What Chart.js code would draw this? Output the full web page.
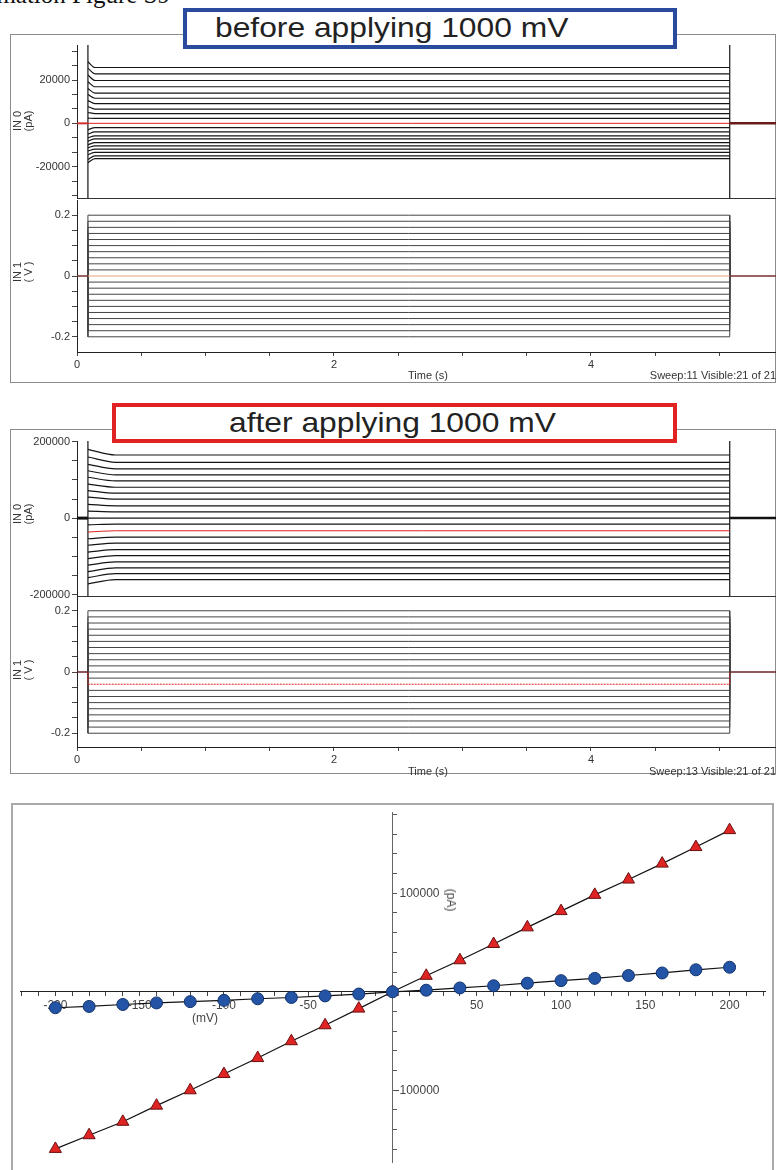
<!DOCTYPE html>
<html><head><meta charset="utf-8">
<script src="https://cdn.jsdelivr.net/npm/chart.js@4"></script>
<style>
body{margin:0;width:776px;height:1170px;position:relative;overflow:hidden;background:#fff;font-family:'Liberation Sans',Arial,sans-serif;color:#333}
canvas{position:absolute}
.frame{position:absolute;border:1px solid #8c8c8c;box-sizing:border-box}
.hdr{position:absolute;box-sizing:border-box;background:#fff;z-index:5}
.hdr span{position:absolute;font-size:28px;line-height:28px;color:#222;white-space:nowrap;transform-origin:0 0;transform:scaleX(1.135)}
.rl{position:absolute;font-size:11px;line-height:11px;text-align:center;white-space:nowrap;transform:translate(-50%,-50%) rotate(-90deg);color:#333}
.t{position:absolute;font-size:11px;line-height:11px;white-space:nowrap;color:#333;z-index:4}
#cap{position:absolute;top:-18px;right:606px;font-family:'Liberation Serif','Times New Roman',serif;font-size:25px;line-height:25px;white-space:nowrap;color:#111;z-index:6}
</style></head>
<body>
<div id="cap">Supplementary Information Figure S9</div>

<div class="frame" style="left:10px;top:34px;width:766px;height:349px"></div>
<div class="hdr" style="left:183px;top:8px;width:494px;height:41px;border:4px solid #2a4a9e"><span style="left:28px;top:2px">before applying 1000 mV</span></div>
<canvas id="c1i" width="776" height="160" style="left:0;top:40px"></canvas>
<canvas id="c1v" width="776" height="180" style="left:0;top:198px"></canvas>
<div class="rl" style="left:23px;top:121px">IN 0<br>(pA)</div>
<div class="rl" style="left:23px;top:272px">IN 1<br>( V )</div>
<div class="t" style="left:408px;top:370px">Time (s)</div>
<div class="t" style="right:0;top:370px">Sweep:11 Visible:21 of 21</div>

<div class="frame" style="left:10px;top:429px;width:766px;height:345px"></div>
<div class="hdr" style="left:112px;top:403px;width:565px;height:40px;border:4px solid #e02222"><span style="left:113px;top:2px">after applying 1000 mV</span></div>
<canvas id="c2i" width="776" height="162" style="left:0;top:436px"></canvas>
<canvas id="c2v" width="776" height="180" style="left:0;top:594px"></canvas>
<div class="rl" style="left:23px;top:514px">IN 0<br>(pA)</div>
<div class="rl" style="left:23px;top:670px">IN 1<br>( V )</div>
<div class="t" style="left:408px;top:766px">Time (s)</div>
<div class="t" style="right:0;top:766px">Sweep:13 Visible:21 of 21</div>

<div class="frame" style="left:11px;top:803px;width:763px;height:420px;border:2px solid #a9a9a9"></div>
<canvas id="civ" width="761" height="366" style="left:12px;top:804px"></canvas>
<div class="t" style="left:205px;top:1018px;font-size:12px;line-height:12px;transform:translate(-50%,-50%);color:#444">(mV)</div>
<div class="t" style="left:451px;top:900px;font-size:12px;line-height:12px;transform:translate(-50%,-50%) rotate(90deg);color:#444">(pA)</div>

<script>
// ---- data ----
const stepVoltages = [0.2,0.18,0.16,0.14,0.12,0.1,0.08,0.06,0.04,0.02,0,-0.02,-0.04,-0.06,-0.08,-0.1,-0.12,-0.14,-0.16,-0.18,-0.2]; // V, sweeps 1..21
const stepStart = 0.085, stepEnd = 5.08, sweepEnd = 5.44;   // s
const settleBefore = 0.14, settleAfter = 0.3;                 // s
const currentBefore = [25800,22900,19800,16900,14000,11600,9100,6600,4500,2300,0,-2000,-3900,-5800,-7200,-8900,-10400,-11900,-13400,-15000,-16300]; // pA
const peakBefore    = [28500,25500,22300,19200,16100,13300,10500,7800,5000,2400,0,-2900,-5000,-6700,-8200,-9900,-11300,-12800,-14500,-16700,-18200];
const currentAfter  = [165300,146200,128800,113100,97400,80900,65300,49600,32200,16500,0,-15700,-33100,-49600,-65300,-82700,-98300,-114800,-130500,-145300,-161000];
const peakAfter     = [180000,160000,141000,124000,107000,89000,72000,55000,36000,18500,0,-17500,-36500,-54000,-71000,-89000,-106000,-123000,-140000,-156000,-172000];
const spikeBefore = [40000,-40000];
const spikeAfter  = [260000,-260000];
const highlightBefore = 11, highlightAfter = 13;

// axis ticks
const timeTicks   = [0,0.5,1,1.5,2,2.5,3,3.5,4,4.5,5];
const timeLabels  = [0,2,4];
const vTicks      = [-0.2,-0.15,-0.1,-0.05,0,0.05,0.1,0.15,0.2];
const vLabels     = [-0.2,0,0.2];
const iTicksBefore  = [-33333,-26667,-20000,-13333,-6667,0,6667,13333,20000,26667,33333];
const iLabelsBefore = [-20000,0,20000];
const iTicksAfter   = [-200000,-150000,-100000,-50000,0,50000,100000,150000,200000];
const iLabelsAfter  = [-200000,0,200000];

const ivVoltage = [-200,-180,-160,-140,-120,-100,-80,-60,-40,-20,0,20,40,60,80,100,120,140,160,180,200]; // mV
const ivBefore  = [-16200,-14900,-12900,-11300,-10000,-8700,-7100,-5800,-4200,-2300,0,1600,3900,6100,8700,11300,13600,16500,19100,22300,24900]; // pA
const ivAfter   = [-159500,-145600,-132000,-115600,-100000,-83500,-67300,-50200,-34000,-17100,0,16200,32000,48500,65400,81900,98400,113900,130100,146900,164100];
const ivXLabels = [-200,-150,-100,-50,50,100,150,200];
const ivXTickStep = 10;
const ivYLabels = [100000,-100000];
const ivYTickStep = 20000;

// ---- chart helpers ----
Chart.defaults.font.family = "'Liberation Sans', Arial, sans-serif";
Chart.defaults.color = '#333';
const setTicks = list => axis => { axis.ticks = list.map(v => ({value:v})); };
const near = (list, v) => list.some(u => Math.abs(u - v) < 1e-9);
const stepList = (lo, hi, step) => { const out = []; for (let k = Math.ceil(lo/step); k*step <= hi; k++) out.push(k*step); return out; };
const fitY = w => s => { s.width = w; s.paddingTop = 0; s.paddingBottom = 0; };
const fitX = h => s => { s.height = h; s.paddingLeft = 0; s.paddingRight = 0; };
const baseOpts = {responsive:false, animation:false, events:[], devicePixelRatio:1,
  plugins:{legend:{display:false}, tooltip:{enabled:false}},
  elements:{point:{radius:0}, line:{tension:0, borderCapStyle:'butt'}}};

function currentChart(id, levels, peaks, settle, spike, hl, yMin, yMax, yTicks, yLabels, holdPre, holdPost) {
  const ds = [];
  ds.push({data:[{x:0,y:0},{x:stepStart,y:0}], borderColor:holdPre.c, borderWidth:holdPre.w, order:0});
  ds.push({data:[{x:stepEnd,y:0},{x:sweepEnd,y:0}], borderColor:holdPost.c, borderWidth:holdPost.w, order:0});
  ds.push({data:[{x:stepStart,y:spike[0]},{x:stepStart,y:spike[1]},{x:1,y:null},{x:stepEnd,y:spike[0]},{x:stepEnd,y:spike[1]}], borderColor:'#151515', borderWidth:1.2, order:2});
  levels.forEach((lv,i) => {
    const hi = (i+1) === hl;
    ds.push({data:[{x:stepStart,y:peaks[i]},{x:settle,y:lv},{x:stepEnd,y:lv}], cubicInterpolationMode:'monotone',
      borderColor:hi?'#e02020':'#151515', borderWidth:hi?1:1.2, order:hi?1:3});
  });
  new Chart(document.getElementById(id), {type:'line', data:{datasets:ds}, options:Object.assign({}, baseOpts, {
    layout:{padding:{top:5,right:0,bottom:0,left:0}},
    scales:{
      x:{type:'linear', min:0, max:sweepEnd, afterFit:fitX(2), ticks:{display:false}, grid:{display:false, drawTicks:false}, border:{display:true,color:'#333',width:1}},
      y:{type:'linear', min:yMin, max:yMax, afterBuildTicks:setTicks(yTicks), afterFit:fitY(77),
         ticks:{autoSkip:false, padding:2, font:{size:11}, color:'#333', callback:v => near(yLabels, v) ? String(v) : ''},
         grid:{drawOnChartArea:false, tickLength:5, color:'#444'}, border:{color:'#222', width:1}}
    }})});
}

function voltageChart(id, hl, hlStyle, padTop, yLim, holdColor) {
  const ds = [];
  ds.push({data:[{x:0,y:0},{x:stepStart,y:0}], borderColor:holdColor, borderWidth:1.5, order:0});
  ds.push({data:[{x:stepEnd,y:0},{x:sweepEnd,y:0}], borderColor:holdColor, borderWidth:1.5, order:0});
  stepVoltages.forEach((v,i) => {
    const hi = (i+1) === hl;
    ds.push({data:[{x:stepStart,y:0},{x:stepStart,y:v},{x:stepEnd,y:v},{x:stepEnd,y:0}],
      borderColor:hi?hlStyle.c:'#454545', borderWidth:1, borderDash:hi?hlStyle.dash:[], order:hi?1:3});
  });
  new Chart(document.getElementById(id), {type:'line', data:{datasets:ds}, options:Object.assign({}, baseOpts, {
    layout:{padding:{top:padTop,right:0,bottom:0,left:0}},
    scales:{
      x:{type:'linear', min:0, max:sweepEnd, afterBuildTicks:setTicks(timeTicks), afterFit:fitX(180-padTop-yLim.h),
         ticks:{autoSkip:false, maxRotation:0, padding:2, font:{size:11}, color:'#333', callback:v => near(timeLabels, v) ? String(v) : ''},
         grid:{drawOnChartArea:false, tickLength:4, color:'#444'}, border:{color:'#222', width:1}},
      y:{type:'linear', min:-yLim.r, max:yLim.r, afterBuildTicks:setTicks(vTicks), afterFit:fitY(77),
         ticks:{autoSkip:false, padding:2, font:{size:11}, color:'#333',
           callback:v => near(vLabels, v) ? (Math.abs(v) < 1e-9 ? '0' : v.toFixed(1)) : ''},
         grid:{drawOnChartArea:false, tickLength:5, color:'#444'}, border:{color:'#222', width:1}}
    }})});
}

currentChart('c1i', currentBefore, peakBefore, settleBefore, spikeBefore, highlightBefore, -34500, 36200, iTicksBefore, iLabelsBefore,
  {c:'#d23030', w:2}, {c:'#6b1a1a', w:2.5});
voltageChart('c1v', highlightBefore, {c:'#e9a27a', dash:[]}, 2, {r:0.25, h:152}, '#7a3030');
currentChart('c2i', currentAfter, peakAfter, settleAfter, spikeAfter, highlightAfter, -204000, 202000, iTicksAfter, iLabelsAfter,
  {c:'#111', w:3}, {c:'#111', w:2.5});
voltageChart('c2v', highlightAfter, {c:'#e02020', dash:[2,1]}, 3, {r:0.245, h:150}, '#6b2020');

// ---- I-V plot ----
const ivXMin = -221, ivXMax = 221, ivYMin = -172800, ivYMax = 182500;
const ivLabelPlugin = {id:'ivLabels', afterDraw(chart){
  const {ctx, scales:{x, y}} = chart; const x0 = x.getPixelForValue(0);
  ctx.save(); ctx.font = "12px 'Liberation Sans', Arial, sans-serif"; ctx.fillStyle = '#444';
  ctx.textBaseline = 'middle'; ctx.textAlign = 'left';
  ivYLabels.forEach(v => { const off = v < 0 ? ctx.measureText('-').width : 0; ctx.fillText(String(v), x0 + 7 - off, y.getPixelForValue(v)); });
  ctx.restore();
}};
new Chart(document.getElementById('civ'), {type:'line', data:{datasets:[
  {data:ivVoltage.map((v,i)=>({x:v,y:ivBefore[i]})), borderColor:'#111', borderWidth:1.2, pointStyle:'circle', pointRadius:6,
   pointBackgroundColor:'#2454a6', pointBorderColor:'#12336e', pointBorderWidth:1},
  {data:ivVoltage.map((v,i)=>({x:v,y:ivAfter[i]})), borderColor:'#111', borderWidth:1.2, pointStyle:'triangle', pointRadius:7,
   pointBackgroundColor:'#e02424', pointBorderColor:'#6a1010', pointBorderWidth:1}
]}, options:Object.assign({}, baseOpts, {
  elements:{line:{tension:0}},
  layout:{padding:0},
  scales:{
    x:{type:'linear', position:{y:0}, min:ivXMin, max:ivXMax, afterBuildTicks:setTicks(stepList(ivXMin, ivXMax, ivXTickStep)), afterFit:fitX(0),
       ticks:{autoSkip:false, maxRotation:0, padding:3, font:{size:12}, color:'#444', callback:v => near(ivXLabels, v) ? String(v) : ''},
       grid:{drawOnChartArea:false, tickLength:4, color:'#444'}, border:{color:'#222', width:1}},
    y:{type:'linear', position:{x:0}, min:ivYMin, max:ivYMax, afterBuildTicks:setTicks(stepList(ivYMin, ivYMax, ivYTickStep)), afterFit:fitY(0),
       ticks:{display:false},
       grid:{drawOnChartArea:false, tickLength:-5, color:'#555'}, border:{color:'#666', width:1}}
  }}), plugins:[ivLabelPlugin]});
</script>
</body></html>
